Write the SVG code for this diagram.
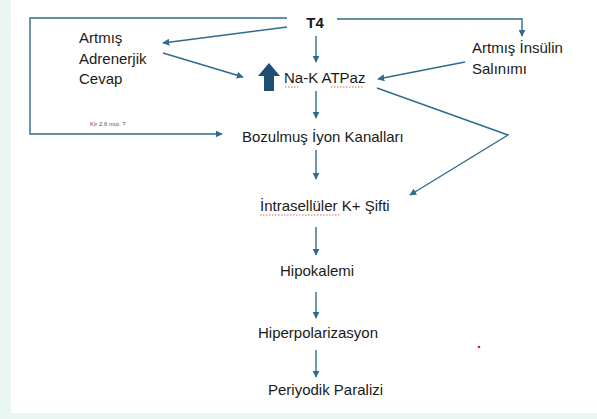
<svg xmlns="http://www.w3.org/2000/svg" width="597" height="419" viewBox="0 0 597 419">
<style>
  .t { font-family: "Liberation Sans", Arial, sans-serif; font-size: 15px; fill: #1a1a1a; }
  .c { fill: none; stroke: #2f6b8c; stroke-width: 1.4; }
  .sq { fill: none; stroke: #d04040; stroke-width: 0.8; stroke-dasharray: 1.5 1.5; }
</style>
<defs>
  <marker id="ah" viewBox="0 0 10 10" refX="9" refY="5" markerWidth="7" markerHeight="7" markerUnits="userSpaceOnUse" orient="auto">
    <path d="M0,0 L10,5 L0,10 z" fill="#2f6b8c"/>
  </marker>
</defs>
<rect x="0" y="0" width="597" height="419" fill="#ffffff"/>
<rect x="0" y="0" width="11" height="419" fill="#eaf6f1"/>
<rect x="0" y="413" width="597" height="6" fill="#eaf6f1"/>
<g id="connectors">
  <polyline class="c" points="337,19 522,19 522,36" marker-end="url(#ah)"/>
  <polyline class="c" points="287,18 30,18 30,134 222,134" marker-end="url(#ah)"/>
  <line class="c" x1="287" y1="27" x2="163" y2="43" marker-end="url(#ah)"/>
  <line class="c" x1="163" y1="53" x2="243" y2="77" marker-end="url(#ah)"/>
  <line class="c" x1="465" y1="62" x2="378" y2="79" marker-end="url(#ah)"/>
  <polyline class="c" points="377,88 508,135 410,195" marker-end="url(#ah)"/>
  <line class="c" x1="316" y1="36" x2="316" y2="62" marker-end="url(#ah)"/>
  <line class="c" x1="316" y1="91" x2="316" y2="118" marker-end="url(#ah)"/>
  <line class="c" x1="316" y1="150" x2="316" y2="179" marker-end="url(#ah)"/>
  <line class="c" x1="316" y1="227" x2="316" y2="255" marker-end="url(#ah)"/>
  <line class="c" x1="316" y1="292" x2="316" y2="318" marker-end="url(#ah)"/>
  <line class="c" x1="316" y1="350" x2="316" y2="377" marker-end="url(#ah)"/>
  <text x="90" y="126" font-family="Liberation Sans, Arial, sans-serif" font-size="6" fill="#555">Kir 2.6 mut. ?</text>
</g>
<g id="t4"><text class="t" x="315" y="28" text-anchor="middle" font-weight="bold" font-size="14">T4</text></g>
<g id="adrenerjik">
  <text class="t" x="79" y="43">Artmış</text>
  <text class="t" x="79" y="64">Adrenerjik</text>
  <text class="t" x="79" y="84">Cevap</text>
</g>
<g id="insulin">
  <text class="t" x="472" y="53">Artmış İnsülin</text>
  <text class="t" x="472" y="74">Salınımı</text>
</g>
<g id="nak">
  <path d="M264,91 L264,76 L258,76 L269,63 L280,76 L274,76 L274,91 z" fill="#1f4f70"/>
  <text class="t" x="284" y="83" font-size="14.5">Na-K ATPaz</text>
  <path class="sq" d="M285,87 L298,87 M331,87 L363,87"/>
</g>
<g id="iyon"><text class="t" x="242" y="142">Bozulmuş İyon Kanalları</text></g>
<g id="intra">
  <text class="t" x="260" y="211">İntrasellüler K+ Şifti</text>
  <path class="sq" d="M260,215 L340,215"/>
</g>
<g id="hipokalemi"><text class="t" x="280" y="276">Hipokalemi</text></g>
<g id="hiperpol"><text class="t" x="258" y="338">Hiperpolarizasyon</text></g>
<g id="paralizi"><text class="t" x="268" y="395">Periyodik Paralizi</text></g>
<circle cx="479" cy="347" r="1.3" fill="#d02020"/>
</svg>
